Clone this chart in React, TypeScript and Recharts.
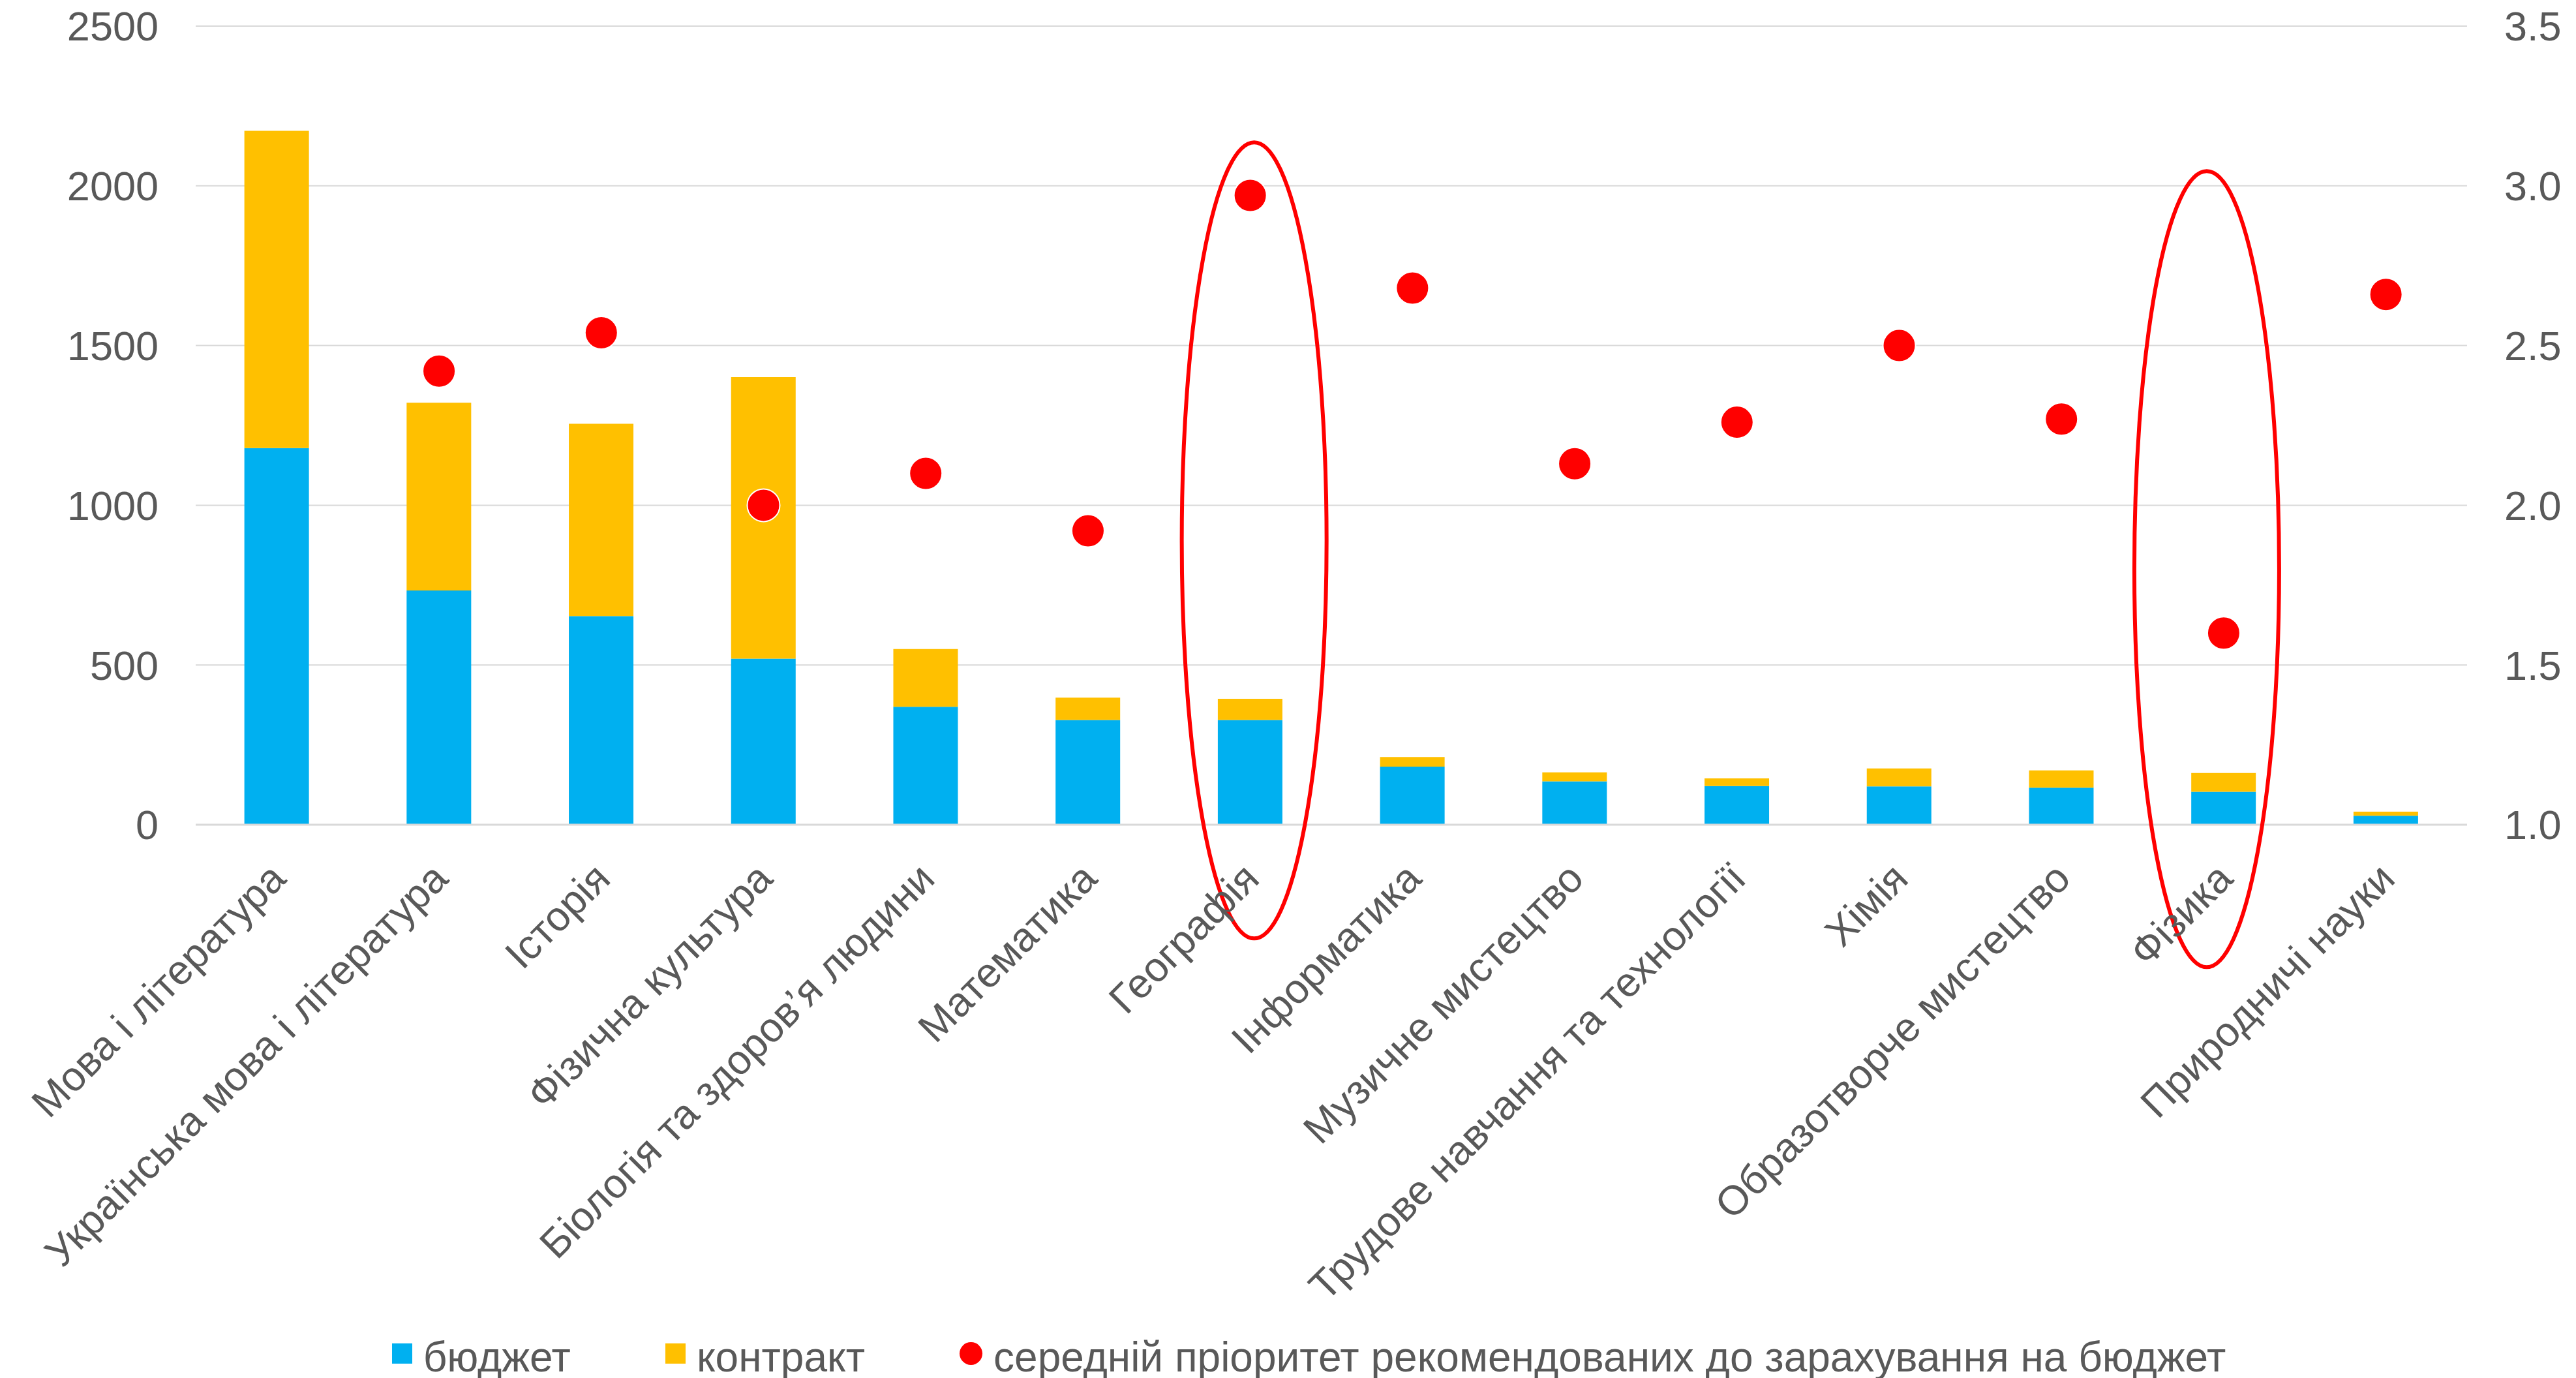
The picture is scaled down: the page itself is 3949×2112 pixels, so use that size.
import {
  ComposedChart, Bar, Line, XAxis, YAxis, CartesianGrid, Legend, ReferenceDot,
} from 'recharts'

const subjects = [
  'Мова і література',
  'Українська мова і література',
  'Історія',
  'Фізична культура',
  'Біологія та здоров’я людини',
  'Математика',
  'Географія',
  'Інформатика',
  'Музичне мистецтво',
  'Трудове навчання та технології',
  'Хімія',
  'Образотворче мистецтво',
  'Фізика',
  'Природничі науки',
]
const budget = [1179, 733, 653, 520, 369, 328, 328, 182, 136, 121, 120, 116, 103, 28]
const contract = [993, 588, 602, 881, 181, 70, 66, 30, 28, 24, 56, 54, 59, 13]
const priority = [null, 2.42, 2.54, 2.0, 2.1, 1.92, 2.97, 2.68, 2.13, 2.26, 2.5, 2.27, 1.6, 2.66]

const leftTicks = [0, 500, 1000, 1500, 2000, 2500]
const rightTicks = [1, 1.5, 2, 2.5, 3, 3.5]

// subjects circled in red on the original slide
const highlighted = [
  { name: 'Географія', center: 890, dx: 6 },
  { name: 'Фізика', center: 800, dx: -26 },
]

const data = subjects.map((name, i) => ({
  name,
  budget: budget[i],
  contract: contract[i],
  priority: priority[i],
}))

const FONT = '"Liberation Sans", Arial, sans-serif'
const TEXT = '#595959'
const GRID = '#D9D9D9'
const BLUE = '#00B0F0'
const YELLOW = '#FFC000'
const RED = '#FF0000'

function SubjectTick({ x, y, payload }: any) {
  const ax = x + 17
  const ay = y + 80
  return (
    <text
      x={ax}
      y={ay}
      transform={`rotate(-45 ${ax} ${ay})`}
      textAnchor="end"
      fill={TEXT}
      fontSize={63}
      fontFamily={FONT}
    >
      {payload.value}
    </text>
  )
}

function LegendBox() {
  const items = [
    { label: 'бюджет', color: BLUE, round: false },
    { label: 'контракт', color: YELLOW, round: false },
    { label: 'середній пріоритет рекомендованих до зарахування на бюджет', color: RED, round: true },
  ]
  return (
    <div
      style={{
        display: 'flex', justifyContent: 'center', alignItems: 'center', height: 64,
        paddingLeft: 64, fontFamily: FONT, fontSize: 64, color: TEXT, whiteSpace: 'nowrap',
      }}
    >
      {items.map((it, i) => (
        <div key={it.label} style={{ display: 'flex', alignItems: 'center', marginRight: i < items.length - 1 ? 145 : 0 }}>
          <span
            style={{
              display: 'inline-block',
              width: it.round ? 35 : 31,
              height: it.round ? 35 : 31,
              borderRadius: it.round ? '50%' : 0,
              background: it.color,
              marginRight: 17,
              marginTop: -12,
            }}
          />
          <span>{it.label}</span>
        </div>
      ))}
    </div>
  )
}

export default function App() {
  return (
    <div style={{ position: 'absolute', left: 0, top: 0, width: 3949, height: 2112, background: '#fff' }}>
      <ComposedChart
        width={3949}
        height={2112}
        data={data}
        margin={{ top: 40, right: 0, bottom: 0, left: 0 }}
        barCategoryGap="30%"
      >
        <CartesianGrid yAxisId="left" vertical={false} stroke={GRID} strokeWidth={2} />
        <XAxis
          dataKey="name"
          interval={0}
          height={784}
          tickLine={false}
          tickMargin={0}
          axisLine={{ stroke: GRID, strokeWidth: 3 }}
          tick={<SubjectTick />}
        />
        <YAxis
          yAxisId="left"
          width={300}
          domain={[0, 2500]}
          ticks={leftTicks}
          axisLine={false}
          tickLine={false}
          tickMargin={51}
          tick={{ fill: TEXT, fontSize: 63, fontFamily: FONT }}
        />
        <YAxis
          yAxisId="right"
          orientation="right"
          width={167}
          domain={[1, 3.5]}
          ticks={rightTicks}
          axisLine={false}
          tickLine={false}
          tickMargin={51}
          tickFormatter={(v: number) => v.toFixed(1)}
          tick={{ fill: TEXT, fontSize: 63, fontFamily: FONT, textAnchor: 'start' }}
        />
        <Legend verticalAlign="bottom" content={<LegendBox />} />
        <Bar yAxisId="left" dataKey="budget" name="бюджет" stackId="a" fill={BLUE} isAnimationActive={false} />
        <Bar yAxisId="left" dataKey="contract" name="контракт" stackId="a" fill={YELLOW} isAnimationActive={false} />
        <Line
          yAxisId="right"
          dataKey="priority"
          name="середній пріоритет рекомендованих до зарахування на бюджет"
          stroke="none"
          dot={{ r: 25, fill: RED, stroke: '#fff', strokeWidth: 2 }}
          activeDot={false}
          isAnimationActive={false}
        />
        {highlighted.map((h) => (
          <ReferenceDot
            key={h.name}
            yAxisId="left"
            x={h.name}
            y={h.center}
            ifOverflow="visible"
            shape={(p: any) => (
              <ellipse cx={p.cx + h.dx} cy={p.cy} rx={111} ry={610} fill="none" stroke={RED} strokeWidth={6} />
            )}
          />
        ))}
      </ComposedChart>
    </div>
  )
}
